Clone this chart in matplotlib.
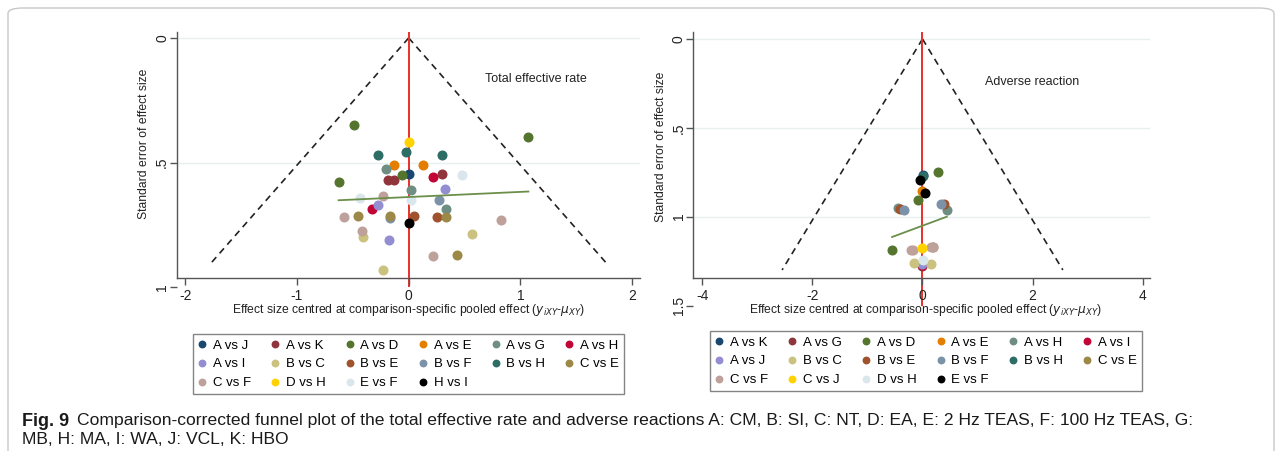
import matplotlib
matplotlib.use("Agg")
import matplotlib.pyplot as plt
from matplotlib.patches import FancyBboxPatch
import numpy as np

plt.rcParams['font.family'] = ['Liberation Sans', 'DejaVu Sans']

# Stata s2color palette, same order as the legends
palette = ['#1a476f', '#90353b', '#55752f', '#e37e00', '#6e8e84', '#c10534',
           '#938dd2', '#cac27e', '#a0522d', '#7b92a8', '#2d6d66', '#9c8847',
           '#bfa19c', '#ffd200', '#d9e6eb', '#000000']

# ---- Total effective rate ----
ter_groups = ['A vs J', 'A vs K', 'A vs D', 'A vs E', 'A vs G', 'A vs H',
              'A vs I', 'B vs C', 'B vs E', 'B vs F', 'B vs H', 'C vs E',
              'C vs F', 'D vs H', 'E vs F', 'H vs I']
ter_effect = {
    'A vs J': [0.003],
    'A vs K': [-0.188, -0.128, 0.299],
    'A vs D': [-0.493, 1.072, -0.057, -0.627],
    'A vs E': [-0.128, 0.131],
    'A vs G': [-0.206, 0.024, 0.334],
    'A vs H': [0.218, -0.325],
    'A vs I': [0.328, -0.278, -0.176],
    'B vs C': [-0.409, 0.567, -0.230],
    'B vs E': [0.048, 0.251],
    'B vs F': [0.269, -0.164],
    'B vs H': [-0.278, -0.024, 0.301],
    'C vs E': [-0.454, -0.164, 0.331, 0.436],
    'C vs F': [-0.233, -0.582, 0.827, -0.418, 0.215],
    'D vs H': [0.0],
    'E vs F': [0.481, -0.436, 0.021],
    'H vs I': [0.0],
}
ter_se = {
    'A vs J': [0.546],
    'A vs K': [0.568, 0.568, 0.547],
    'A vs D': [0.349, 0.397, 0.551, 0.576],
    'A vs E': [0.511, 0.509],
    'A vs G': [0.527, 0.611, 0.688],
    'A vs H': [0.556, 0.684],
    'A vs I': [0.607, 0.670, 0.810],
    'B vs C': [0.799, 0.787, 0.929],
    'B vs E': [0.716, 0.718],
    'B vs F': [0.650, 0.724],
    'B vs H': [0.470, 0.457, 0.468],
    'C vs E': [0.714, 0.714, 0.718, 0.870],
    'C vs F': [0.634, 0.720, 0.729, 0.773, 0.874],
    'D vs H': [0.418],
    'E vs F': [0.550, 0.641, 0.650],
    'H vs I': [0.743],
}
ter_fit = (0.638, -0.0206)   # intercept, slope of se on centred effect
ter_se_max = 0.90

# ---- Adverse reaction ----
adv_groups = ['A vs K', 'A vs G', 'A vs D', 'A vs E', 'A vs H', 'A vs I',
              'A vs J', 'B vs C', 'B vs E', 'B vs F', 'B vs H', 'C vs E',
              'C vs F', 'C vs J', 'D vs H', 'E vs F']
adv_effect = {
    'A vs K': [0.012],
    'A vs G': [0.0],
    'A vs D': [0.273, -0.073, -0.552],
    'A vs E': [-0.015],
    'A vs H': [-0.44, 0.442],
    'A vs I': [0.0],
    'A vs J': [0.0],
    'B vs C': [-0.16, 0.158],
    'B vs E': [-0.40, 0.394],
    'B vs F': [-0.34, 0.333],
    'B vs H': [0.005],
    'C vs E': [0.19],
    'C vs F': [-0.21, -0.17, 0.16, 0.20],
    'C vs J': [0.0],
    'D vs H': [0.005],
    'E vs F': [-0.048, 0.045],
}
adv_se = {
    'A vs K': [0.767],
    'A vs G': [1.275],
    'A vs D': [0.750, 0.904, 1.187],
    'A vs E': [0.855],
    'A vs H': [0.949, 0.961],
    'A vs I': [1.272],
    'A vs J': [1.268],
    'B vs C': [1.263, 1.266],
    'B vs E': [0.959, 0.929],
    'B vs F': [0.964, 0.929],
    'B vs H': [0.770],
    'C vs E': [1.17],
    'C vs F': [1.19, 1.19, 1.171, 1.169],
    'C vs J': [1.177],
    'D vs H': [1.246],
    'E vs F': [0.791, 0.867],
}
adv_fit = (1.051, -0.115)
adv_se_max = 1.30

W, H = 1282, 451
fig = plt.figure(figsize=(W / 100, H / 100), dpi=100)


def fx(px):
    return px / W


def fy(py):
    return 1 - py / H


def funnel(ax, groups, effect, se, fit, se_max, xlim, ylim, spine_y,
           yticks, yticklabels, xticks, label, label_xy, grid_y):
    for y in grid_y:
        ax.axhline(y, color='#e6f0f1', lw=1.0, zorder=0)
    # pseudo 95% limits
    s = np.array([0, se_max])
    ax.plot(-1.96 * s, s, color='#222222', lw=1.2, ls=(0, (4, 3)), zorder=1)
    ax.plot(1.96 * s, s, color='#222222', lw=1.2, ls=(0, (4, 3)), zorder=1)
    ax.axvline(0, color='#e8312a', lw=1.4, zorder=1)
    handles = []
    for i, g in enumerate(groups):
        h, = ax.plot(effect[g], se[g], 'o', ms=6.2, color=palette[i],
                     mec=palette[i], ls='none', label=g, zorder=3)
        handles.append(h)
    allx = np.concatenate([effect[g] for g in groups])
    xx = np.array([allx.min(), allx.max()])
    ax.plot(xx, fit[0] + fit[1] * xx, color='#6b8f4a', lw=1.3, zorder=4)
    ax.text(label_xy[0], label_xy[1], label, fontsize=9, ha='center',
            va='center', color='#222222')

    ax.set_xlim(*xlim)
    ax.set_ylim(*ylim)
    for sp in ['top', 'right']:
        ax.spines[sp].set_visible(False)
    ax.spines['bottom'].set_position(('data', spine_y))
    ax.spines['left'].set_bounds(ylim[1], spine_y)
    for sp in ['bottom', 'left']:
        ax.spines[sp].set_color('#555555')
        ax.spines[sp].set_linewidth(1.0)
    ax.set_xticks(xticks)
    ax.set_xticklabels([f'{t:g}' for t in xticks])
    ax.set_yticks(yticks)
    ax.set_yticklabels(yticklabels, rotation=90, va='center')
    ax.tick_params(axis='both', length=5, width=1, color='#555555',
                   labelsize=10, labelcolor='#222222', pad=3)
    ax.tick_params(axis='y', pad=0.5)
    ax.set_ylabel('Standard error of effect size', fontsize=8.7,
                  color='#222222')
    return handles


def row_order(items, ncol=6):
    n = len(items)
    out = []
    for c in range(ncol):
        out.extend(items[r] for r in range(c, n, ncol))
    return out


# left panel
ax1 = fig.add_axes([fx(176.7), fy(287.3), fx(640 - 176.7), (287.3 - 31.7) / H])
h1 = funnel(ax1, ter_groups, ter_effect, ter_se, ter_fit, ter_se_max,
            (-2.077, 2.071), (1.0, -0.025), 0.961, [0, 0.5, 1], ['0', '.5', '1'],
            [-2, -1, 0, 1, 2], 'Total effective rate', (1.137, 0.165), [0, 0.5])
ax1.yaxis.set_label_coords(-0.058, 0.56)

# right panel
ax2 = fig.add_axes([fx(693.3), fy(305.5), fx(1150 - 693.3), (305.5 - 31.7) / H])
h2 = funnel(ax2, adv_groups, adv_effect, adv_se, adv_fit, adv_se_max,
            (-4.16, 4.13), (1.5, -0.041), 1.343, [0, 0.5, 1, 1.5],
            ['0', '.5', '1', '1.5'], [-4, -2, 0, 2, 4], 'Adverse reaction',
            (1.99, 0.244), [0, 0.5, 1])
ax2.yaxis.set_label_coords(-0.058, 0.58)

xlab = r'Effect size centred at comparison-specific pooled effect ($y_{iXY}$-$\mu_{XY}$)'
fig.text(fx(408.5), fy(310), xlab, fontsize=8.7, ha='center', va='center',
         color='#222222')
fig.text(fx(926), fy(310), xlab, fontsize=8.7, ha='center', va='center',
         color='#222222')

for handles, cx, top in [(h1, 408.5, 334), (h2, 926, 331)]:
    leg = fig.legend(row_order(handles), [h.get_label() for h in row_order(handles)],
                     ncol=6, loc='upper center', bbox_to_anchor=(fx(cx), fy(top)),
                     fontsize=9.5, frameon=True, fancybox=False, handlelength=0.6,
                     handletextpad=0.5, columnspacing=1.55, borderpad=0.4,
                     labelspacing=0.5, markerscale=0.75, edgecolor='#666666',
                     borderaxespad=0)
    leg.get_frame().set_linewidth(1.0)

# outer frame of the figure panel
frame = FancyBboxPatch((fx(8), fy(460)), fx(1266), (460 - 8) / H,
                       boxstyle='round,pad=0,rounding_size=0.012',
                       transform=fig.transFigure, fill=False,
                       edgecolor='#c8c8c8', lw=1.0)
fig.patches.append(frame)

# caption
t0 = fig.text(fx(22), fy(421), 'Fig. 9', fontsize=13, fontweight='bold',
              va='center', color='#1a1a1a')
fig.canvas.draw()
bb = t0.get_window_extent()
fig.text(bb.x1 / W + fx(8), fy(421),
         'Comparison-corrected funnel plot of the total effective rate and adverse '
         'reactions A: CM, B: SI, C: NT, D: EA, E: 2 Hz TEAS, F: 100 Hz TEAS, G:',
         fontsize=12.6, va='center', color='#1a1a1a')
fig.text(fx(22), fy(440), 'MB, H: MA, I: WA, J: VCL, K: HBO', fontsize=12.6,
         va='center', color='#1a1a1a')

fig.savefig('out.png', dpi=100)
